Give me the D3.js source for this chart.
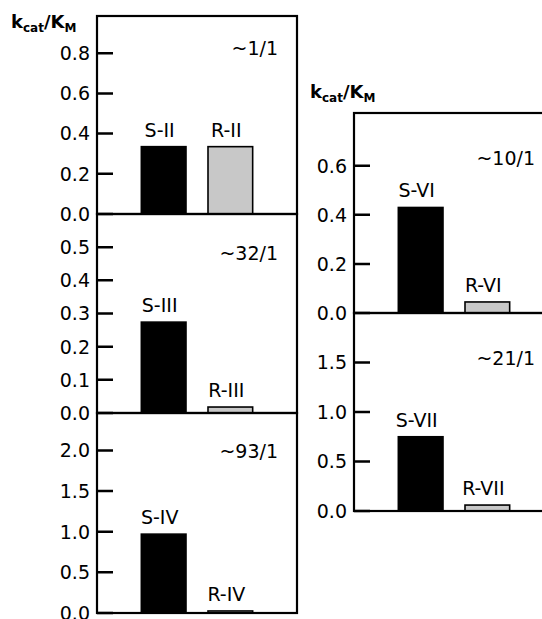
<!DOCTYPE html>
<html>
<head>
<meta charset="utf-8">
<script src="https://cdn.jsdelivr.net/npm/d3@7"></script>
<style>
  body { margin: 0; background: #fff; }
  svg { display: block; }
  text { font-family: 'DejaVu Sans', sans-serif; fill: #000; }
</style>
</head>
<body>
<svg id="chart" width="542" height="619"></svg>
<script>
// data
const sLabels = ['S-II', 'S-III', 'S-IV', 'S-VI', 'S-VII']
const rLabels = ['R-II', 'R-III', 'R-IV', 'R-VI', 'R-VII']
const sValues = [0.335, 0.274, 0.97, 0.43, 0.75]
const rValues = [0.335, 0.018, 0.025, 0.045, 0.06]
const ratios = ['~1/1', '~32/1', '~93/1', '~10/1', '~21/1']
const yMax = [0.985, 0.6, 2.46, 0.815, 2.0]
const yTicks = [
  [0, 0.2, 0.4, 0.6, 0.8],
  [0, 0.1, 0.2, 0.3, 0.4, 0.5],
  [0, 0.5, 1.0, 1.5, 2.0],
  [0, 0.2, 0.4, 0.6],
  [0, 0.5, 1.0, 1.5]
]

// layout of the panels (pixels)
const panelW = 200
const boxes = [
  { x: 97, top: 16, bottom: 214, ratioY: 39 },
  { x: 97, top: 214, bottom: 413, ratioY: 46 },
  { x: 97, top: 413, bottom: 613, ratioY: 45 },
  { x: 354, top: 113, bottom: 313, ratioY: 52 },
  { x: 354, top: 313, bottom: 511, ratioY: 52 }
]
const fontSize = 19
const barWidth = 0.67
const tickLen = 16
const grey = '#c8c8c8'
const fmt = d3.format('.1f')

const svg = d3.select('#chart')

boxes.forEach(function(b, i) {
  const xScale = d3.scaleLinear().domain([0, 3]).range([b.x, b.x + panelW])
  const yScale = d3.scaleLinear().domain([0, yMax[i]]).range([b.bottom, b.top])
  const g = svg.append('g')

  const bars = [
    { label: sLabels[i], v: sValues[i], pos: 1, fill: '#000' },
    { label: rLabels[i], v: rValues[i], pos: 2, fill: grey }
  ]

  g.selectAll('rect.bar')
    .data(bars)
    .enter()
    .append('rect')
    .attr('class', 'bar')
    .attr('x', (d) => xScale(d.pos - barWidth / 2))
    .attr('y', (d) => yScale(d.v))
    .attr('width', xScale(barWidth) - xScale(0))
    .attr('height', (d) => yScale(0) - yScale(d.v))
    .style('fill', (d) => d.fill)
    .style('stroke', '#000')
    .style('stroke-width', 1.6)

  g.selectAll('text.barlabel')
    .data(bars)
    .enter()
    .append('text')
    .attr('class', 'barlabel')
    .attr('x', (d) => xScale(d.pos) - 4)
    .attr('y', (d) => yScale(d.v) - 10)
    .attr('text-anchor', 'middle')
    .style('font-size', fontSize + 'px')
    .text((d) => d.label)

  g.selectAll('text.ticklabel')
    .data(yTicks[i])
    .enter()
    .append('text')
    .attr('class', 'ticklabel')
    .attr('x', b.x - 7)
    .attr('y', (d) => yScale(d))
    .attr('dy', '0.36em')
    .attr('text-anchor', 'end')
    .style('font-size', fontSize + 'px')
    .text((d) => fmt(d))

  // frame
  g.append('rect')
    .attr('x', b.x)
    .attr('y', b.top)
    .attr('width', panelW)
    .attr('height', b.bottom - b.top)
    .style('fill', 'none')
    .style('stroke', '#000')
    .style('stroke-width', 2.2)

  // inward tick marks, one path per panel, drawn on top of the frame
  const tickPath = d3.path()
  yTicks[i].forEach(function(t) {
    tickPath.moveTo(b.x, yScale(t))
    tickPath.lineTo(b.x + tickLen, yScale(t))
  })
  g.append('path')
    .attr('d', tickPath.toString())
    .attr('fill', 'none')
    .attr('stroke', '#000')
    .attr('stroke-width', 2.5)

  g.append('text')
    .attr('x', b.x + panelW - 19)
    .attr('y', b.top + b.ratioY)
    .attr('text-anchor', 'end')
    .style('font-size', fontSize + 'px')
    .text(ratios[i])
})

// y axis titles
function kLabel(x, y) {
  const t = svg.append('text')
    .attr('x', x)
    .attr('y', y)
    .style('font-weight', 'bold')
    .style('font-size', '18px')
  t.append('tspan').text('k')
  t.append('tspan').attr('dy', 4).style('font-size', '12px').text('cat')
  t.append('tspan').attr('dy', -4).text('/K')
  t.append('tspan').attr('dy', 4).style('font-size', '12px').text('M')
}
kLabel(11, 28)
kLabel(310, 98)
</script>
</body>
</html>
